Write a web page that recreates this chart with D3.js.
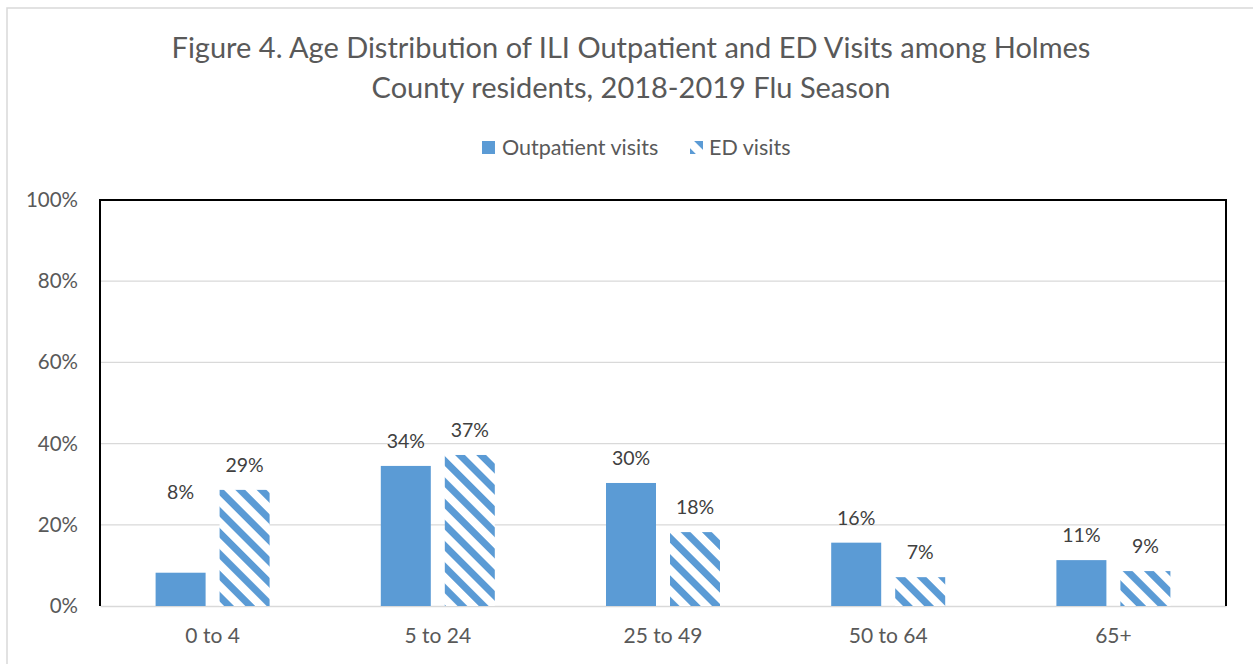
<!DOCTYPE html>
<html>
<head>
<meta charset="utf-8">
<title>Age Distribution of ILI Visits</title>
<script src="https://cdn.jsdelivr.net/npm/d3@7"></script>
<style>
  body { margin: 0; background: #fff; font-family: Lato, "Open Sans", sans-serif; }
  svg text { fill: #595959; }
</style>
</head>
<body>
<div id="chart"></div>
<script>
// data
var ageGroups = ["0 to 4", "5 to 24", "25 to 49", "50 to 64", "65+"];
var outpatient = [8.2, 34.5, 30.3, 15.6, 11.3];
var edVisits = [28.6, 37.2, 18.2, 7.1, 8.6];
var outpatientLabels = ["8%", "34%", "30%", "16%", "11%"];
var edLabels = ["29%", "37%", "18%", "7%", "9%"];
var yTicks = [0, 20, 40, 60, 80, 100];
var titleLines = ["Figure 4. Age Distribution of ILI Outpatient and ED Visits among Holmes",
                  "County residents, 2018-2019 Flu Season"];

var width = 1253, height = 664;
var margin = {left: 100, right: 27, top: 200, bottom: 58};

var svg = d3.select("#chart").append("svg")
    .attr("width", width)
    .attr("height", height);

// stripes for the ED bars
var defs = svg.append("defs");
var pat = defs.append("pattern")
    .attr("id", "hatch")
    .attr("patternUnits", "userSpaceOnUse")
    .attr("width", 15)
    .attr("height", 15)
    .attr("patternTransform", "rotate(-45)");
pat.append("rect").attr("width", 15).attr("height", 15).attr("fill", "#fff");
pat.append("rect").attr("width", 7).attr("height", 15).attr("fill", "#5b9bd5");

// outer chart frame
svg.append("rect")
    .attr("x", 7).attr("y", 8)
    .attr("width", width).attr("height", height)
    .attr("fill", "none")
    .attr("stroke", "#d9d9d9")
    .attr("stroke-width", 1.5);

var x = d3.scaleBand()
    .domain(ageGroups)
    .range([margin.left, width - margin.right]);

var y = d3.scaleLinear()
    .domain([0, 100])
    .range([height - margin.bottom, margin.top]);

var barW = 50, gap = 14;

// gridlines
svg.append("g")
    .selectAll("line")
    .data(yTicks.slice(1))
    .enter().append("line")
    .attr("x1", margin.left)
    .attr("x2", width - margin.right)
    .attr("y1", function(d) { return y(d); })
    .attr("y2", function(d) { return y(d); })
    .attr("stroke", "#d9d9d9")
    .attr("stroke-width", 1.3);

// y axis labels
var yAxis = d3.axisLeft(y)
    .tickValues(yTicks)
    .tickSize(0)
    .tickPadding(22)
    .tickFormat(function(d) { return d + "%"; });
var gy = svg.append("g")
    .attr("transform", "translate(" + margin.left + ",0)")
    .call(yAxis);
gy.select(".domain").remove();
gy.selectAll("text")
    .style("font-size", "20.5px")
    .style("font-family", "Lato, sans-serif")
    .attr("fill", "#595959");

// x axis
var xAxis = d3.axisBottom(x).tickSize(0).tickPadding(22);
var gx = svg.append("g")
    .attr("transform", "translate(0," + y(0) + ")")
    .call(xAxis);
gx.select(".domain").attr("stroke", "#d9d9d9").attr("stroke-width", 1.5);
gx.selectAll("text")
    .style("font-size", "21px")
    .style("font-family", "Lato, sans-serif")
    .attr("fill", "#595959");

// bars
var rows = ageGroups.map(function(g, i) {
  return {group: g, op: outpatient[i], ed: edVisits[i], opLab: outpatientLabels[i], edLab: edLabels[i]};
});

var groups = svg.append("g").selectAll("g")
    .data(rows)
    .enter().append("g");

groups.append("rect")
    .attr("x", function(d) { return x(d.group) + x.bandwidth() / 2 - gap / 2 - barW; })
    .attr("y", function(d) { return y(d.op); })
    .attr("width", barW)
    .attr("height", function(d) { return y(0) - y(d.op); })
    .attr("fill", "#5b9bd5");

groups.append("rect")
    .attr("x", function(d) { return x(d.group) + x.bandwidth() / 2 + gap / 2; })
    .attr("y", function(d) { return y(d.ed); })
    .attr("width", barW)
    .attr("height", function(d) { return y(0) - y(d.ed); })
    .attr("fill", "url(#hatch)");

// data labels (the 8% one was lifted by hand in the original)
var lift = {"0 to 4": 56};
groups.append("text")
    .attr("x", function(d) { return x(d.group) + x.bandwidth() / 2 - gap / 2 - barW / 2; })
    .attr("y", function(d) { return y(d.op) - 18 - (d.op < 10 ? (lift[d.group] || 0) : 0); })
    .attr("text-anchor", "middle")
    .style("font-size", "19.5px")
    .style("fill", "#404040")
    .text(function(d) { return d.opLab; });

groups.append("text")
    .attr("x", function(d) { return x(d.group) + x.bandwidth() / 2 + gap / 2 + barW / 2; })
    .attr("y", function(d) { return y(d.ed) - 18; })
    .attr("text-anchor", "middle")
    .style("font-size", "19.5px")
    .style("fill", "#404040")
    .text(function(d) { return d.edLab; });

// plot area border (drawn over bars)
svg.append("path")
    .attr("d", "M" + margin.left + "," + y(0) + "V" + margin.top + "H" + (width - margin.right) + "V" + y(0))
    .attr("fill", "none")
    .attr("stroke", "#000")
    .attr("stroke-width", 2);

// title
svg.append("g").selectAll("text")
    .data(titleLines)
    .enter().append("text")
    .attr("x", 631)
    .attr("y", function(d, i) { return 58 + i * 40; })
    .attr("text-anchor", "middle")
    .style("font-size", "29px")
    .text(function(d) { return d; });

// legend
var legend = svg.append("g").attr("transform", "translate(482,141)");
legend.append("rect").attr("width", 13).attr("height", 13).attr("fill", "#5b9bd5");
legend.append("text").attr("x", 20).attr("y", 14).style("font-size", "21.5px").text("Outpatient visits");
legend.append("rect").attr("x", 208).attr("width", 13).attr("height", 13).attr("fill", "url(#hatch)");
legend.append("text").attr("x", 227).attr("y", 14).style("font-size", "21.5px").text("ED visits");
</script>
</body>
</html>
